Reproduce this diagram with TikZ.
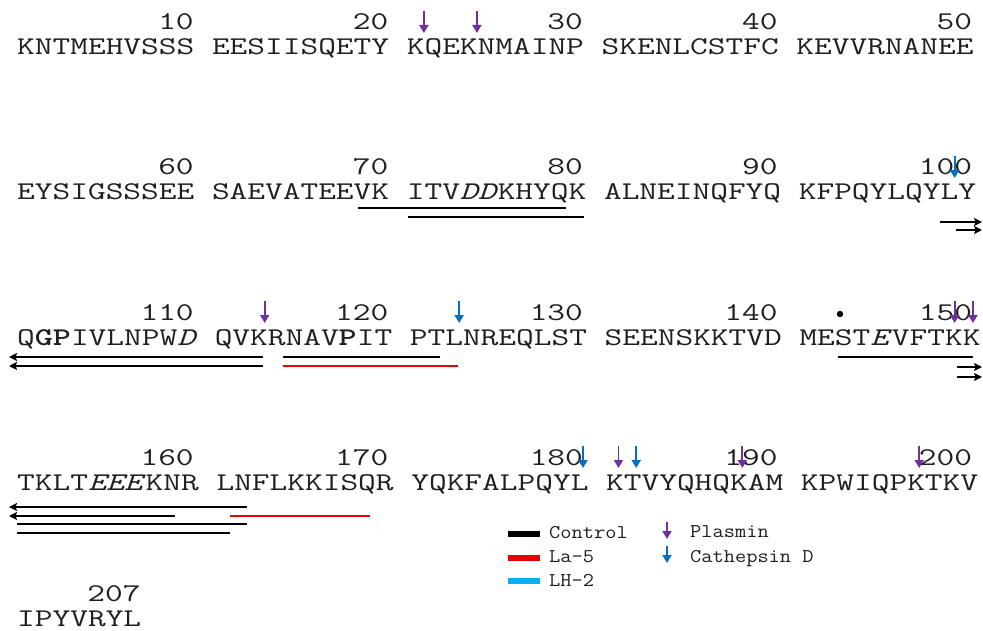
\documentclass[tikz,border=0pt]{standalone}
\usepackage{fontspec}
\usepackage{graphicx}
\usetikzlibrary{arrows.meta}
\definecolor{plas}{RGB}{112,48,160}
\definecolor{cath}{RGB}{0,112,192}
\definecolor{lared}{RGB}{230,0,0}
\definecolor{lhcyan}{RGB}{0,176,240}
\newcommand{\seqtxt}[1]{\scalebox{1.3486}[1]{\fontsize{25.5}{30}\selectfont\ttfamily #1}}
\newcommand{\legtxt}[1]{\scalebox{1.117}[1]{\fontsize{19.5}{23}\selectfont\ttfamily #1}}
\begin{document}
\begin{tikzpicture}[x=1pt,y=-1pt,
  seqrow/.style={anchor=base west, inner sep=0pt, text=black!88},
  numlab/.style={anchor=base east, inner sep=0pt, text=black!88},
  legtext/.style={anchor=base west, inner sep=0pt, text=black!88},
  plasarrow/.style={draw=plas, line width=1.9pt, -{Triangle[length=8pt,width=9pt]}},
  catharrow/.style={draw=cath, line width=1.9pt, -{Triangle[length=8pt,width=9pt]}},
  pepbar/.style={line width=2.6pt, black},
  redbar/.style={line width=2.2pt, lared},
  contarrow/.style={line width=2.6pt, black, -{Stealth[length=8pt,width=8pt,inset=1.5pt]}},
  swatch/.style={line width=6pt}
]
\fill[white] (0,0) rectangle (983,631);
\useasboundingbox (0,0) rectangle (983,631);

% ---------- row 1 ----------
\node[seqrow] (r1) at (17,55) {\seqtxt{KNTMEHVSSS EESIISQETY KQEKNMAINP SKENLCSTFC KEVVRNANEE}};
\node[numlab] (n10) at (193.9,30) {\seqtxt{10}};
\node[numlab] (n20) at (388.5,30) {\seqtxt{20}};
\node[numlab] (n30) at (583.1,30) {\seqtxt{30}};
\node[numlab] (n40) at (777.7,30) {\seqtxt{40}};
\node[numlab] (n50) at (972.3,30) {\seqtxt{50}};
\draw[plasarrow] (423.9,11) -- (423.9,33);
\draw[plasarrow] (476.9,11) -- (476.9,33);

% ---------- row 2 ----------
\node[seqrow] (r2) at (17,200) {\seqtxt{EYSIGSSSEE SAEVATEEVK ITV\textit{DD}KHYQK ALNEINQFYQ KFPQYLQYLY}};
\node[numlab] (n60) at (193.9,175) {\seqtxt{60}};
\node[numlab] (n70) at (388.5,175) {\seqtxt{70}};
\node[numlab] (n80) at (583.1,175) {\seqtxt{80}};
\node[numlab] (n90) at (777.7,175) {\seqtxt{90}};
\node[numlab] (n100) at (972.3,175) {\seqtxt{100}};
\draw[catharrow] (954.6,156) -- (954.6,178);
\draw[pepbar] (358,208) -- (566,208);
\draw[pepbar] (408,217) -- (584,217);
\draw[contarrow] (940,222) -- (982,222);
\draw[contarrow] (956,230) -- (982,230);

% ---------- row 3 ----------
\node[seqrow] (r3) at (17,345) {\seqtxt{Q\textbf{GP}IVLNPW\textit{D} QVKRNAV\textbf{P}IT PTLNREQLST SEENSKKTVD MEST\textit{E}VFTKK}};
\node[numlab] (n110) at (193.9,320) {\seqtxt{110}};
\node[numlab] (n120) at (388.5,320) {\seqtxt{120}};
\node[numlab] (n130) at (583.1,320) {\seqtxt{130}};
\node[numlab] (n140) at (777.7,320) {\seqtxt{140}};
\node[numlab] (n150) at (972.3,320) {\seqtxt{150}};
\fill[black] (840,314) circle (3.2pt);
\draw[plasarrow] (264.7,301) -- (264.7,323);
\draw[catharrow] (459.2,301) -- (459.2,323);
\draw[plasarrow] (954.6,301) -- (954.6,323);
\draw[plasarrow] (973,301) -- (973,323);
\draw[contarrow] (263,357) -- (9,357);
\draw[contarrow] (263,366) -- (9,366);
\draw[pepbar] (283,357) -- (440,357);
\draw[redbar] (283,366) -- (458,366);
\draw[pepbar] (838,357) -- (973,357);
\draw[contarrow] (957,367) -- (982,367);
\draw[contarrow] (957,377) -- (982,377);

% ---------- row 4 ----------
\node[seqrow] (r4) at (17,490) {\seqtxt{TKLT\textit{EEE}KNR LNFLKKISQR YQKFALPQYL KTVYQHQKAM KPWIQPKTKV}};
\node[numlab] (n160) at (193.9,465) {\seqtxt{160}};
\node[numlab] (n170) at (388.5,465) {\seqtxt{170}};
\node[numlab] (n180) at (583.1,465) {\seqtxt{180}};
\node[numlab] (n190) at (777.7,465) {\seqtxt{190}};
\node[numlab] (n200) at (972.3,465) {\seqtxt{200}};
\draw[catharrow] (583.0,446) -- (583.0,468);
\draw[plasarrow] (618.5,446) -- (618.5,468);
\draw[catharrow] (636.2,446) -- (636.2,468);
\draw[plasarrow] (742.3,446) -- (742.3,468);
\draw[plasarrow] (919.2,446) -- (919.2,468);
\draw[contarrow] (247,507) -- (9,507);
\draw[contarrow] (175,516) -- (9,516);
\draw[pepbar] (17,524) -- (247,524);
\draw[pepbar] (17,533) -- (230,533);
\draw[redbar] (230,516) -- (370,516);

% ---------- row 5 ----------
\node[seqrow] (r5) at (17,626) {\seqtxt{IPYVRYL}};
\node[numlab] (n207) at (140.8,601) {\seqtxt{207}};

% ---------- legend ----------
\draw[swatch, black] (508,534) -- (540,534);
\draw[swatch, lared] (508,557.5) -- (540,557.5);
\draw[swatch, lhcyan] (508,581) -- (540,581);
\node[legtext] (lcontrol) at (549,538) {\legtxt{Control}};
\node[legtext] (lla) at (549,562) {\legtxt{La-5}};
\node[legtext] (llh) at (549,586) {\legtxt{LH-2}};
\draw[plasarrow] (667,522) -- (667,539);
\draw[catharrow] (667,546) -- (667,563);
\node[legtext] (lplas) at (690,537) {\legtxt{Plasmin}};
\node[legtext] (lcath) at (690,562) {\legtxt{Cathepsin D}};
\end{tikzpicture}
\end{document}
